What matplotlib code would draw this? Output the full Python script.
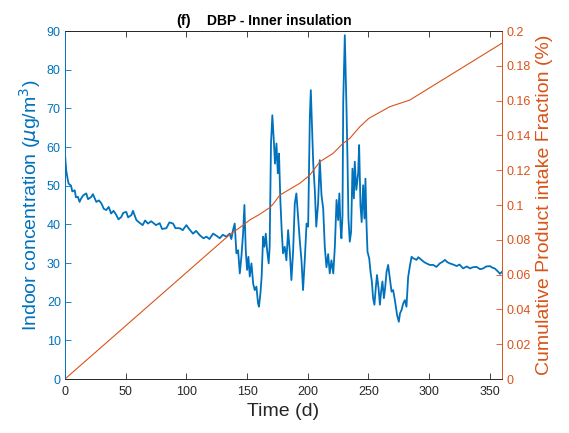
import matplotlib
matplotlib.use("Agg")
import matplotlib.pyplot as plt
import numpy as np

plt.rcParams['font.family'] = ['Liberation Sans', 'DejaVu Sans']
plt.rcParams['mathtext.fontset'] = 'dejavusans'

# indoor concentration (ug/m3)
days = [0, 0.5, 1, 2, 3, 5, 6, 8, 9, 10.6, 12, 13, 15, 17.5, 19, 21.7, 23, 25.8, 28, 30,
        32, 34, 36, 38, 40, 42.3, 44, 46.4, 48, 50.5, 52, 54.7, 56, 58.8, 61, 64, 66, 68.3,
        71, 75, 78, 80, 83.5, 86, 89, 91, 94.5, 97, 100, 102, 105.4, 108, 111, 114, 116.5,
        119, 122, 125, 127.5, 130, 133, 135.7, 137, 138.4, 139.8, 141.2, 142.6, 144, 145.3,
        146.7, 147.8, 148.9, 150, 151.1, 152.2, 153.6, 155, 156.3, 157.7, 159, 159.8, 161,
        162, 163.2, 164.3, 165.4, 166.5, 167.8, 168.6, 169.7, 170.8, 172, 173, 174.2, 175.3,
        176.3, 177.4, 178.5, 179.6, 181, 182.4, 183.8, 185.2, 186.5, 187.9, 189.3, 190.6,
        192, 193.4, 194.8, 196.1, 197.5, 199, 200.3, 201.7, 202.5, 203.5, 204.5, 205.8, 207,
        208.5, 209.9, 211.3, 212.7, 214, 215.4, 216.8, 218.1, 219.5, 221, 222.3, 223.7, 225,
        226, 227, 227.7, 228.6, 229.2, 230, 230.5, 231.3, 231.9, 232.7, 233.5, 234.6, 235.7,
        236.8, 238, 238.7, 240, 241.5, 242.3, 243.4, 244.4, 245.6, 246.7, 247.5, 248.4,
        249.2, 250.6, 251.7, 252.8, 253.8, 254.9, 256, 257, 258.3, 259.4, 260.4, 261.5,
        262.7, 263.7, 264.9, 266.2, 267.6, 269, 270.3, 271.7, 273.6, 275, 276, 277.2, 278.6,
        280, 281.3, 282.7, 284, 285.5, 287, 289.6, 291, 293.7, 296, 297.8, 300.5, 303.3, 306,
        308.8, 311, 313, 315, 317, 320.6, 322.6, 325, 328, 331, 333.6, 336, 339, 342, 344.5,
        347, 350, 352, 354, 357, 358.3, 360]
conc = [58, 56, 54, 52, 50.5, 50, 48.5, 48.8, 47, 47.1, 45.8, 46.5, 47.5, 48, 46.5, 47.1,
        47.8, 45.8, 46.2, 45.4, 44, 43.7, 44.5, 42.8, 43.5, 42.4, 41.3, 41.9, 43, 43.2, 41.8,
        42.4, 43.5, 41.1, 40.5, 39.8, 41, 40.2, 40.8, 39.8, 40.3, 38.8, 39.0, 40.5, 40.2,
        39.0, 39.0, 38.5, 39.8, 38.9, 37.6, 38.3, 37.2, 36.4, 36.8, 36.2, 37.6, 37.0, 36.4,
        37.3, 36.8, 37.6, 36.2, 38.5, 40.2, 32.5, 33.3, 27.3, 31.6, 37.6, 45, 33.3, 28.2,
        31.6, 26.5, 29.9, 24.7, 23, 23.9, 19.6, 18.7, 22.2, 26.5, 36.8, 34.2, 37.6, 33.3,
        29.9, 34.2, 60.9, 68.2, 61.8, 55.7, 60.9, 53.2, 58.3, 46.3, 38.5, 32.5, 34.2, 30.7,
        38.5, 32.9, 25.6, 32.9, 45.4, 48, 41.9, 35.9, 30.7, 23, 30.7, 40.2, 39.4, 67.8, 74.7,
        65.2, 55.7, 48.8, 39.4, 45.4, 56.6, 47.5, 44.1, 34.2, 28.9, 32.3, 27.3, 30.7, 27.3,
        34.2, 46.3, 41.1, 48, 39.4, 36.4, 42.2, 71.7, 82.9, 88.9, 78.6, 70, 57, 41.5, 35.5,
        38.1, 54.4, 46.7, 56.2, 48.9, 53.2, 60.5, 44.9, 40.6, 50.1, 41.5, 51.8, 39.8, 32.9,
        31.2, 27.7, 25.2, 20.9, 19.2, 23.5, 26.9, 23.5, 19.2, 22.6, 25.2, 20.9, 23.5, 27.7,
        29.5, 26.0, 22.6, 23, 20.5, 16.5, 14.8, 17, 17.8, 19.5, 20.4, 18.7, 26.4, 29, 31.6,
        31.2, 30.8, 31.5, 30.8, 30.2, 29.9, 29.5, 29.5, 29, 29.9, 30.3, 30.8, 30.2, 29.9,
        29.5, 29.2, 29.6, 28.6, 29.1, 28.6, 28.9, 29, 28.4, 28.6, 29.1, 29.2, 28.8, 28.6,
        27.7, 27.2, 27.7]

# cumulative product intake fraction (%)
cum_days = [0, 135.7, 145, 152.2, 160, 168.7, 172, 177, 185, 193.5,
            201.7, 210, 220.9, 229, 234.6, 242.9, 250.3, 267.6, 284, 360]
cum_frac = [0, 0.083, 0.0875, 0.0914, 0.0945, 0.0985, 0.101,
            0.1057, 0.109, 0.1125, 0.1172, 0.1249, 0.1297, 0.1354, 0.1383, 0.145, 0.1498,
            0.1565, 0.1603, 0.193]

blue = "#0072BD"
orange = "#D95319"
dark = "#262626"

fig = plt.figure(figsize=(5.69, 4.33), dpi=100)
ax = fig.add_axes([65 / 569, 1 - 379 / 433, (502 - 65) / 569, (379 - 31) / 433])
ax2 = ax.twinx()

ax.plot(days, conc, color=blue, linewidth=1.3)
ax2.plot(cum_days, cum_frac, color=orange, linewidth=0.8)

ax.set_xlim(0, 360)
ax.set_ylim(0, 90)
ax2.set_ylim(0, 0.2)
ax.set_xticks(np.arange(0, 351, 50))
ax.set_yticks(np.arange(0, 91, 10))
ax2.set_yticks(np.arange(0, 0.201, 0.02))
ax2.set_yticklabels(["0", "0.02", "0.04", "0.06", "0.08", "0.1", "0.12", "0.14",
                     "0.16", "0.18", "0.2"])

ax.tick_params(axis='x', direction='in', top=True, length=4, width=0.6,
               colors=dark, labelsize=9, pad=5)
ax.tick_params(axis='y', direction='in', length=4, width=0.6, colors=blue,
               labelsize=9, pad=3)
ax2.tick_params(axis='y', direction='in', length=4, width=0.6, colors=orange,
                labelsize=9, pad=3)

for a in (ax, ax2):
    a.spines['top'].set_color(dark)
    a.spines['bottom'].set_color(dark)
    a.spines['left'].set_color(blue)
    a.spines['right'].set_color(orange)
    for s in a.spines.values():
        s.set_linewidth(0.6)

ax.set_xlabel("Time (d)", fontsize=14, color=dark, labelpad=4)
ax.set_ylabel(r"Indoor concentration ($\mu$g/m$^3$)", fontsize=14, color=blue, labelpad=3)
ax2.set_ylabel("Cumulative Product intake Fraction (%)", fontsize=14, color=orange,
               labelpad=4)

ax.text(0.254, 1.018, "(f)", transform=ax.transAxes, fontsize=10.5,
        fontweight='bold', ha='left', va='baseline')
ax.text(0.325, 1.018, "DBP - Inner insulation", transform=ax.transAxes, fontsize=10,
        fontweight='bold', ha='left', va='baseline')

fig.savefig("out.png", dpi=100)
